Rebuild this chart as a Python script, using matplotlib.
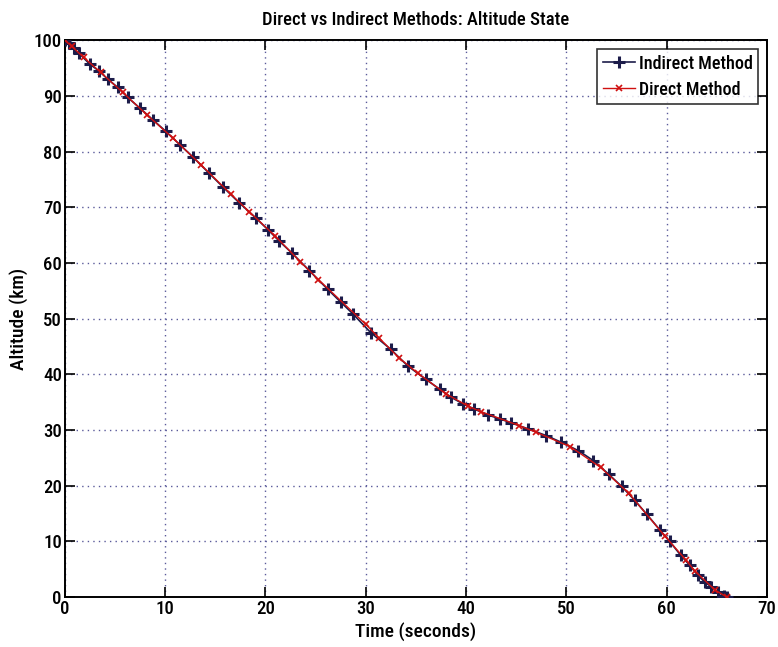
import matplotlib
matplotlib.use("Agg")
import matplotlib.pyplot as plt
import numpy as np

plt.rcParams["font.family"] = ["Roboto Condensed", "Archivo Narrow",
                               "Liberation Sans", "DejaVu Sans"]
plt.rcParams["font.weight"] = "medium"
plt.rcParams["axes.titleweight"] = "medium"
plt.rcParams["axes.labelweight"] = "medium"

# indirect (shooting) solution nodes
t_indirect = [0.0, 0.4, 0.9, 1.45, 2.5, 3.4, 4.3, 5.3, 6.3, 7.5, 8.8, 10.1,
              11.5, 12.8, 14.4, 15.8, 17.4, 19.1, 20.3, 21.4, 22.7, 24.4,
              26.2, 27.5, 28.7, 30.5, 32.5, 34.2, 36.0, 37.4, 38.5, 39.7,
              40.8, 42.2, 43.4, 44.5, 46.2, 48.0, 49.5, 51.2, 52.7, 54.2,
              55.5, 56.8, 58.0, 59.3, 60.3, 61.4, 62.3, 63.1, 63.8, 64.4,
              65.1, 65.7, 66.0]
h_indirect = [100.0, 99.4, 98.5, 97.6, 95.7, 94.5, 93.0, 91.5, 89.7, 87.8,
              85.7, 83.6, 81.2, 79.0, 76.1, 73.6, 70.8, 68.0, 65.9, 63.9,
              61.7, 58.6, 55.3, 53.0, 50.9, 47.5, 44.5, 41.5, 39.1, 37.3,
              35.9, 34.7, 33.8, 32.7, 32.0, 31.3, 30.2, 29.0, 27.8, 26.3,
              24.5, 22.1, 19.9, 17.4, 14.9, 12.1, 10.0, 7.5, 5.7, 3.9, 2.7,
              1.9, 0.9, 0.3, 0.0]

# direct (collocation) solution nodes
t_direct = [0.0, 0.7, 1.9, 3.6, 5.8, 8.2, 10.8, 13.6, 16.6, 18.4, 21.0,
            23.5, 25.3, 30.0, 31.3, 33.3, 35.2, 38.0, 40.2, 41.5, 45.3,
            47.0, 50.4, 53.4, 56.2, 59.8, 61.9, 62.8, 64.8, 66.0]
h_direct = [100.0, 98.9, 96.9, 94.2, 90.6, 86.6, 82.4, 77.6, 72.3, 69.2,
            64.8, 60.2, 57.0, 49.0, 46.6, 43.0, 40.2, 36.5, 34.3, 33.3,
            30.8, 29.6, 27.0, 23.3, 18.7, 11.0, 6.7, 4.7, 1.3, 0.0]

fig = plt.figure(figsize=(7.78, 6.47), dpi=100)
ax = fig.add_axes([0.083, 0.077, 0.903, 0.861])

ax.plot(t_indirect, h_indirect, color="#1c1c4a", lw=1.2, marker="+",
        ms=9, mew=2.2, label="Indirect Method", zorder=3)
ax.plot(t_direct, h_direct, color="#d01010", lw=1.0, marker="x",
        ms=4, mew=1.2, label="Direct Method", zorder=4)

ax.set_xlim(0, 70)
ax.set_ylim(0, 100)
ax.set_xticks(np.arange(0, 71, 10))
ax.set_yticks(np.arange(0, 101, 10))
ax.tick_params(direction="in", length=7, width=1.2, top=True, right=True,
               labelsize=13.5, pad=2)
for s in ax.spines.values():
    s.set_linewidth(1.4)
ax.grid(True, linestyle=(0, (1, 3)), color="#5a5a9a", lw=1.0)

ax.set_title("Direct vs Indirect Methods: Altitude State", fontsize=13.4,
             pad=11)
ax.set_xlabel("Time (seconds)", fontsize=14, labelpad=3)
ax.set_ylabel("Altitude (km)", fontsize=14, labelpad=4)

leg = ax.legend(loc="upper right", fontsize=13, frameon=True, fancybox=False,
                edgecolor="black", borderpad=0.3, handlelength=1.8,
                handletextpad=0.2, labelspacing=0.45, borderaxespad=0.5)
leg.get_frame().set_linewidth(1.2)

fig.savefig("out.png", dpi=100, facecolor="white")
